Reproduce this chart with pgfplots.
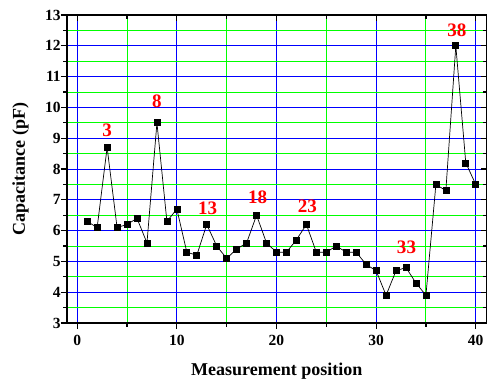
\documentclass[border=0pt]{standalone}
\usepackage{fontspec}
\setmainfont{Liberation Serif}
\usepackage{pgfplots}
\pgfplotsset{compat=1.18}
\begin{document}
\begin{tikzpicture}
\pgfplotsset{
  common/.style={
    scale only axis, width=419.5bp, height=307.7bp,
    xmin=-1.05, xmax=41.1, ymin=3, ymax=13,
    xtick={0,10,20,30,40}, ytick={3,4,5,6,7,8,9,10,11,12,13},
    minor x tick num=1, minor y tick num=1,
    axis line style={line width=1.5bp},
    major tick length=6bp, minor tick length=3.5bp,
    every tick/.style={black, line width=1.2bp},
  }
}
\begin{axis}[common,
  tick align=outside, xtick pos=left, ytick pos=left,
  grid=both,
  major grid style={blue, line width=0.9bp},
  minor grid style={green, line width=0.9bp},
  xticklabels={0,10,20,30,40},
  yticklabels={3,4,5,6,7,8,9,10,11,12,13},
  xticklabel style={font=\fontsize{15.5bp}{17bp}\selectfont\bfseries, yshift=-3bp},
  yticklabel style={font=\fontsize{15.5bp}{17bp}\selectfont\bfseries, xshift=3.5bp},
  xlabel={Measurement position},
  ylabel={Capacitance (pF)},
  label style={font=\bfseries\fontsize{18bp}{20bp}\selectfont},
  every axis x label/.append style={at={(axis description cs:0.5,-0.169)}, anchor=base},
  every axis y label/.append style={at={(axis description cs:-0.11,0.5)}, anchor=center},
]
\coordinate (sw) at (rel axis cs:0,0);
\coordinate (ne) at (rel axis cs:1,1);
\addplot[black, line width=0.7bp, mark=square*, mark size=3bp, mark options={solid}] coordinates {
(1,6.3) (2,6.1) (3,8.7) (4,6.1) (5,6.2) (6,6.4) (7,5.6) (8,9.5) (9,6.3) (10,6.7)
(11,5.3) (12,5.2) (13,6.2) (14,5.5) (15,5.1) (16,5.4) (17,5.6) (18,6.5) (19,5.6) (20,5.3)
(21,5.3) (22,5.7) (23,6.2) (24,5.3) (25,5.3) (26,5.5) (27,5.3) (28,5.3) (29,4.9) (30,4.7)
(31,3.9) (32,4.7) (33,4.8) (34,4.3) (35,3.9) (36,7.5) (37,7.3) (38,12.0) (39,8.2) (40,7.5)
};
\begin{scope}[every node/.style={red, font=\bfseries\fontsize{19bp}{21bp}\selectfont, anchor=center}]
\node at (axis cs:3,9.27) {3};
\node at (axis cs:8,10.2) {8};
\node at (axis cs:13.1,6.74) {13};
\node at (axis cs:18.1,7.08) {18};
\node at (axis cs:23.1,6.78) {23};
\node at (axis cs:33.05,5.45) {33};
\node at (axis cs:38.1,12.5) {38};
\end{scope}
\end{axis}
\begin{axis}[common,
  tick align=inside, xtick pos=right, ytick pos=right,
  xticklabel=\empty, yticklabel=\empty,
]
\end{axis}
\pgfresetboundingbox
\path ([shift={(-66.7bp,-55bp)}]sw) rectangle ([shift={(0.3bp,15bp)}]ne);
\end{tikzpicture}
\end{document}
